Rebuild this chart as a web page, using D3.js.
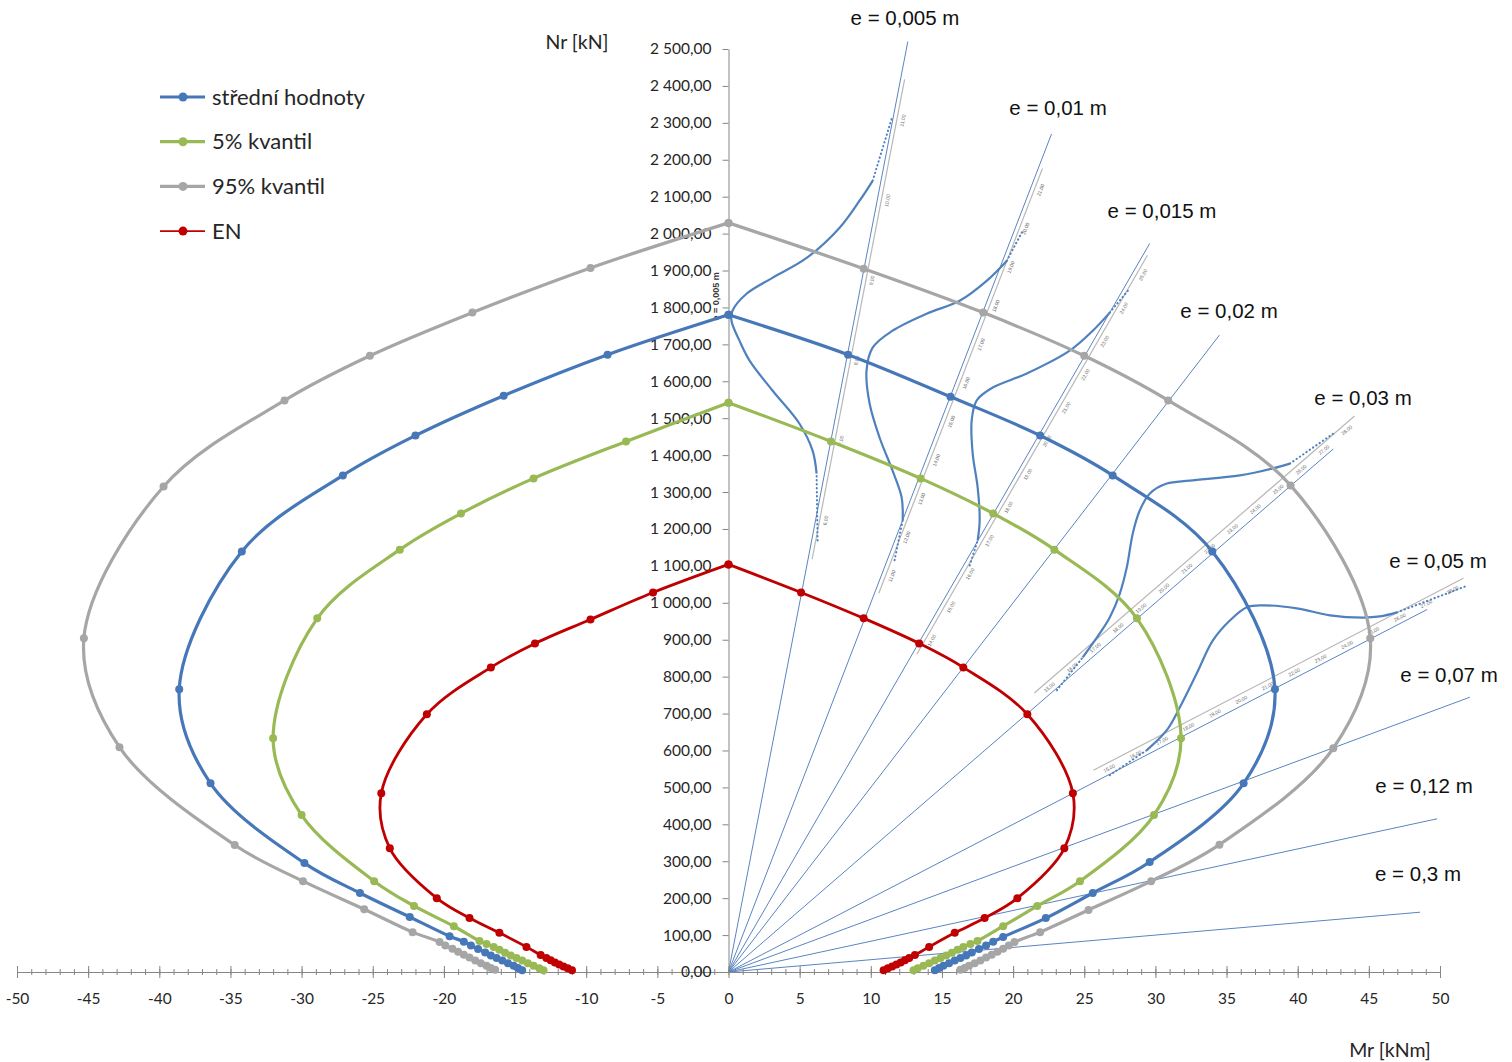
<!DOCTYPE html>
<html>
<head>
<meta charset="utf-8">
<script src="https://cdn.jsdelivr.net/npm/d3@7"></script>
<style>
  body { margin: 0; background: #ffffff; }
  svg { display: block; }
</style>
</head>
<body>
<svg id="chart" width="1512" height="1062"></svg>
<script>
// Interaction diagrams N–M of a column section with eccentricity rays
// and resistance distributions along selected rays.

// ---- data: interaction curves [M (kNm), N (kN)], left and right branches ----
const meanLeft = [[-14.5,5],[-14.8,11],[-15.1,17],[-15.5,24],[-15.9,31],[-16.3,38],[-16.7,45],[-17.1,53],[-17.6,62],[-18.1,72],[-18.6,82],[-19.6,97],[-22.4,149],[-25.9,214],[-29.8,295],[-36.4,511],[-38.6,766],[-34.2,1139],[-27.1,1345],[-22.0,1453],[-15.8,1561],[-8.5,1672],[0,1780]];
const meanRight = [[0,1780],[8.4,1672],[15.6,1558],[21.9,1453],[27.0,1345],[34.0,1139],[38.4,766],[36.2,511],[29.6,298],[25.6,214],[22.3,146],[19.3,95],[18.6,82],[18.1,72],[17.6,62],[17.1,53],[16.7,45],[16.3,38],[15.9,31],[15.5,24],[15.1,17],[14.8,11],[14.5,5]];

const q05Left = [[-13.0,5],[-13.3,10],[-13.7,17],[-14.1,24],[-14.5,31],[-14.9,38],[-15.3,45],[-15.7,52],[-16.1,60],[-16.5,68],[-17.0,76],[-17.5,84],[-19.3,124],[-22.1,179],[-24.9,246],[-30.0,425],[-32.0,633],[-28.9,958],[-23.1,1144],[-18.8,1242],[-13.7,1337],[-7.2,1437],[0,1542]];
const q05Right = [[0,1542],[7.2,1437],[13.5,1337],[18.6,1242],[22.9,1144],[28.7,958],[31.8,633],[29.9,425],[24.7,246],[21.7,179],[19.3,124],[17.5,84],[17.0,76],[16.5,68],[16.1,60],[15.7,52],[15.3,45],[14.9,38],[14.5,31],[14.1,24],[13.7,17],[13.3,10],[13.0,5]];

const q95Left = [[-16.4,6],[-16.7,11],[-17.0,17],[-17.4,24],[-17.8,31],[-18.2,39],[-18.6,47],[-19.0,55],[-19.4,63],[-19.9,72],[-20.3,81],[-22.2,108],[-25.6,170],[-29.9,246],[-34.7,344],[-42.8,609],[-45.3,904],[-39.7,1315],[-31.2,1548],[-25.2,1669],[-18.0,1786],[-9.7,1907],[0,2029]];
const q95Right = [[0,2029],[9.5,1905],[17.9,1786],[25.0,1669],[30.9,1548],[39.5,1318],[45.1,904],[42.5,606],[34.5,345],[29.7,246],[25.3,168],[21.9,108],[20.1,81],[19.7,72],[19.3,63],[18.9,55],[18.5,47],[18.1,39],[17.7,31],[17.3,24],[16.9,17],[16.6,11],[16.3,6]];

const enLeft = [[-11.0,5],[-11.3,10],[-11.6,15],[-11.9,20],[-12.2,26],[-12.5,32],[-12.8,38],[-13.2,46],[-14.2,68],[-16.1,106],[-18.2,146],[-20.5,200],[-23.8,335],[-24.4,484],[-21.2,698],[-16.7,825],[-13.6,890],[-9.7,955],[-5.3,1028],[0,1104]];
const enRight = [[0,1104],[5.1,1028],[9.5,958],[13.4,890],[16.5,825],[21.0,698],[24.2,484],[23.6,335],[20.3,200],[18.0,146],[15.9,106],[14.1,68],[13.1,46],[12.7,38],[12.4,32],[12.1,26],[11.8,20],[11.5,15],[11.2,10],[10.9,5]];

const seriesNames = ["střední hodnoty", "5% kvantil", "95% kvantil", "EN"];

// ---- eccentricity rays: e (m) and moment at the ray end (kNm) ----
const rayE = [0.005, 0.01, 0.015, 0.02, 0.03, 0.05, 0.07, 0.12, 0.3];
const rayEndM = [12.6, 22.7, 29.6, 34.5, 42.5, 49.1, 52.1, 49.8, 48.6];
const rayLabels = ["e = 0,005 m", "e = 0,01 m", "e = 0,015 m", "e = 0,02 m", "e = 0,03 m", "e = 0,05 m", "e = 0,07 m", "e = 0,12 m", "e = 0,3 m"];

// ---- resistance distributions along rays [M, N]; first/last point = tails ----
const distE = [0.005, 0.01, 0.015, 0.03, 0.05];
const distA = [[6.26,1169],[6.19,1350],[5.91,1412],[4.99,1485],[3.09,1575],[1.48,1656],[0.77,1710],[0.21,1764],[0.28,1791],[1.27,1837],[3.09,1880],[5.49,1934],[7.81,2016],[9.21,2089],[10.13,2143],[11.53,2319]];
const distB = [[11.67,1115],[12.24,1223],[12.17,1285],[11.53,1358],[10.62,1447],[9.92,1539],[9.70,1629],[10.13,1691],[11.53,1737],[13.92,1783],[16.24,1818],[18.14,1872],[19.55,1926],[20.68,2008]];
const distC = [[16.95,1101],[17.51,1169],[17.65,1223],[17.51,1312],[17.16,1404],[17.09,1494],[17.44,1548],[18.57,1583],[20.96,1621],[23.98,1683],[25.60,1737],[26.79,1786],[28.06,1845]];
const distD = [[23.07,763],[24.89,852],[26.09,917],[26.79,960],[27.50,1025],[27.99,1096],[28.41,1188],[28.90,1250],[29.61,1296],[30.80,1323],[32.42,1331],[35.94,1345],[38.26,1364],[39.45,1377],[42.48,1458]];
const distE5 = [[26.79,533],[29.40,601],[30.80,655],[31.72,717],[32.91,809],[34.04,898],[35.23,952],[36.43,988],[37.55,993],[39.94,985],[42.26,966],[44.59,960],[45.78,963],[46.98,974],[51.76,1044]];
// extent of each distribution's own axis (M along the ray) and its tick labels
const distAxisM = [[5.6, 12.1], [10.3, 21.8], [13.0, 29.2], [22.0, 44.5], [26.0, 52.0]];
const distTicks = [
  ["6,00","7,00","8,00","9,00","10,00","11,00"],
  ["11,00","12,00","13,00","14,00","15,00","16,00","17,00","18,00","19,00","20,00","21,00"],
  ["14,00","15,00","16,00","17,00","18,00","19,00","20,00","21,00","22,00","23,00","24,00","25,00"],
  ["15,00","16,00","17,00","18,00","19,00","20,00","21,00","22,00","23,00","24,00","25,00","26,00","27,00","28,00"],
  ["15,00","16,00","17,00","18,00","19,00","20,00","21,00","22,00","23,00","24,00","25,00","26,00","27,00","28,00"]
];

// ---- axis ticks ----
const xMajor = [-50,-45,-40,-35,-30,-25,-20,-15,-10,-5,0,5,10,15,20,25,30,35,40,45,50];
const xMinor = d3.range(-50, 51, 1);
const yTicks = d3.range(0, 2501, 100);

// ---- layout ----
const svg = d3.select("#chart");
const x = d3.scaleLinear().domain([-50, 50]).range([17, 1440]);
const y = d3.scaleLinear().domain([0, 2500]).range([972, 49]);

const csLocale = d3.formatLocale({ decimal: ",", thousands: "\u00a0", grouping: [3], currency: ["", ""] });
const fmtN = csLocale.format(",.2f");

const cBlue = "#4677B8", cGreen = "#98B954", cGray = "#A6A6A6", cRed = "#C00000";
const cRay = "#5B84C0";
const uiFont = "Lato, 'Open Sans', sans-serif";

// ---- eccentricity rays ----
const gRays = svg.append("g");
rayE.forEach((e, i) => {
  const mEnd = rayEndM[i];
  gRays.append("line")
    .attr("x1", x(0)).attr("y1", y(0))
    .attr("x2", x(mEnd)).attr("y2", y(mEnd / e))
    .attr("stroke", cRay).attr("stroke-width", 1);
});

// unit vectors of a ray in screen space
function rayDir(e) {
  const dx = x(10) - x(0), dy = y(10 / e) - y(0);
  const L = Math.hypot(dx, dy);
  return { ux: dx / L, uy: dy / L };
}

// ---- distribution axes with their small labels ----
const gDist = svg.append("g");
distE.forEach((e, i) => {
  const { ux, uy } = rayDir(e);
  const ccw = e >= 0.03;                 // axis sits on the upper-left side for the flatter rays
  const off = ccw ? 11 : 4;
  const px = ccw ? uy : -uy, py = ccw ? -ux : ux;
  const [m0, m1] = distAxisM[i];
  const p0 = [x(m0) + px * off, y(m0 / e) + py * off];
  const p1 = [x(m1) + px * off, y(m1 / e) + py * off];
  gDist.append("line")
    .attr("x1", p0[0]).attr("y1", p0[1]).attr("x2", p1[0]).attr("y2", p1[1])
    .attr("stroke", "#B8B8B8").attr("stroke-width", 1.2);
  const ticks = distTicks[i];
  const ang = Math.atan2(uy, ux) * 180 / Math.PI;
  const lOff = ccw ? 5.5 : 10;
  ticks.forEach((t, k) => {
    const m = m0 + (m1 - m0) * (k + 0.5) / ticks.length;
    const tx = x(m) + px * lOff, ty = y(m / e) + py * lOff;
    gDist.append("text")
      .attr("transform", `translate(${tx},${ty}) rotate(${ang})`)
      .attr("text-anchor", "middle").attr("dy", "0.35em")
      .attr("font-family", "'Liberation Sans', Arial, sans-serif")
      .attr("font-size", 5).attr("fill", "#6b6b6b")
      .text(t);
  });
});

// ---- distribution curves ----
const smooth = d3.line().x(d => x(d[0])).y(d => y(d[1])).curve(d3.curveCatmullRom.alpha(0.5));
const straight = d3.line().x(d => x(d[0])).y(d => y(d[1]));
[distA, distB, distC, distD, distE5].forEach(pts => {
  const n = pts.length;
  gDist.append("path").attr("d", smooth(pts.slice(1, n - 1)))
    .attr("fill", "none").attr("stroke", "#4F81BD").attr("stroke-width", 2.2);
  [pts.slice(0, 2), pts.slice(n - 2)].forEach(seg => {
    gDist.append("path").attr("d", straight(seg))
      .attr("fill", "none").attr("stroke", "#4F81BD").attr("stroke-width", 2)
      .attr("stroke-linecap", "round").attr("stroke-dasharray", "0.5,3.5");
  });
});

// small rotated caption beside the vertical axis
svg.append("text")
  .attr("transform", `translate(${x(0) - 13},${y(1830)}) rotate(-90)`)
  .attr("text-anchor", "middle").attr("dy", "0.35em")
  .attr("font-family", "'Liberation Sans', Arial, sans-serif")
  .attr("font-size", 9).attr("font-weight", "bold").attr("fill", "#3a3a3a")
  .text("e = 0,005 m");

// ---- axes ----
const axisColor = "#868686";
const gx = svg.append("g").attr("transform", `translate(0,${y(0)})`);
gx.call(d3.axisBottom(x).tickValues(xMinor).tickSize(3).tickSizeOuter(0).tickFormat(""));
gx.call(g => g.append("g").call(d3.axisTop(x).tickValues(xMinor).tickSize(3).tickSizeOuter(0).tickFormat("")));
gx.call(g => g.append("g").call(d3.axisTop(x).tickValues(xMajor).tickSize(6).tickSizeOuter(0).tickFormat("")));
gx.call(g => g.append("g").call(d3.axisBottom(x).tickValues(xMajor).tickSize(6).tickSizeOuter(0).tickPadding(15).tickFormat(d => String(d))));
gx.selectAll("path,line").attr("stroke", axisColor);
gx.selectAll("text").attr("font-family", uiFont).attr("font-size", 15.5).attr("fill", "#262626");

const gy = svg.append("g").attr("transform", `translate(${x(0)},0)`);
gy.call(d3.axisLeft(y).tickValues(yTicks).tickSize(6).tickSizeOuter(0).tickPadding(11).tickFormat(fmtN));
gy.selectAll("path,line").attr("stroke", axisColor);
gy.selectAll("text").attr("font-family", uiFont).attr("font-size", 15.5).attr("fill", "#262626");

// ---- interaction curves ----
const curves = [
  { name: seriesNames[2], color: cGray, width: 3.2, r: 4, branches: [q95Left, q95Right] },
  { name: seriesNames[0], color: cBlue, width: 3.2, r: 4, branches: [meanLeft, meanRight] },
  { name: seriesNames[1], color: cGreen, width: 3.2, r: 4, branches: [q05Left, q05Right] },
  { name: seriesNames[3], color: cRed, width: 2.8, r: 4, branches: [enLeft, enRight] }
];
const gCurves = svg.append("g");
curves.forEach(c => {
  c.branches.forEach(b => {
    gCurves.append("path").attr("d", smooth(b))
      .attr("fill", "none").attr("stroke", c.color).attr("stroke-width", c.width)
      .attr("stroke-linejoin", "round");
  });
  c.branches.forEach(b => {
    gCurves.selectAll(null).data(b).enter().append("circle")
      .attr("cx", d => x(d[0])).attr("cy", d => y(d[1])).attr("r", c.r)
      .attr("fill", c.color);
  });
});

// ---- ray labels ----
const gRayLab = svg.append("g");
const rayLabelPos = [[905, 18], [1058, 108], [1162, 211], [1229, 311], [1363, 398], [1438, 561], [1449, 675], [1424, 786], [1418, 874]];
rayLabels.forEach((t, i) => {
  gRayLab.append("text")
    .attr("x", rayLabelPos[i][0]).attr("y", rayLabelPos[i][1])
    .attr("text-anchor", "middle").attr("dy", "0.35em")
    .attr("font-family", "'Liberation Sans', Arial, sans-serif")
    .attr("font-size", 20.5).attr("fill", "#111")
    .text(t);
});

// ---- axis titles ----
svg.append("text").attr("x", 577).attr("y", 42).attr("text-anchor", "middle").attr("dy", "0.35em")
  .attr("font-family", uiFont).attr("font-size", 19.5).attr("fill", "#262626").text("Nr [kN]");
svg.append("text").attr("x", 1390).attr("y", 1050).attr("text-anchor", "middle").attr("dy", "0.35em")
  .attr("font-family", uiFont).attr("font-size", 19.5).attr("fill", "#262626").text("Mr [kNm]");

// ---- legend ----
const legendOrder = [
  { name: seriesNames[0], color: cBlue, width: 3.2 },
  { name: seriesNames[1], color: cGreen, width: 3.2 },
  { name: seriesNames[2], color: cGray, width: 3.2 },
  { name: seriesNames[3], color: cRed, width: 1.8 }
];
const gLeg = svg.append("g").attr("transform", "translate(160,97)");
legendOrder.forEach((s, i) => {
  const g = gLeg.append("g").attr("transform", `translate(0,${i * 44.7})`);
  g.append("line").attr("x1", 0).attr("x2", 45).attr("stroke", s.color).attr("stroke-width", s.width);
  g.append("circle").attr("cx", 23).attr("r", 4.5).attr("fill", s.color);
  g.append("text").attr("x", 52).attr("dy", "0.35em")
    .attr("font-family", uiFont).attr("font-size", 22).attr("fill", "#262626")
    .text(s.name);
});
</script>
</body>
</html>
